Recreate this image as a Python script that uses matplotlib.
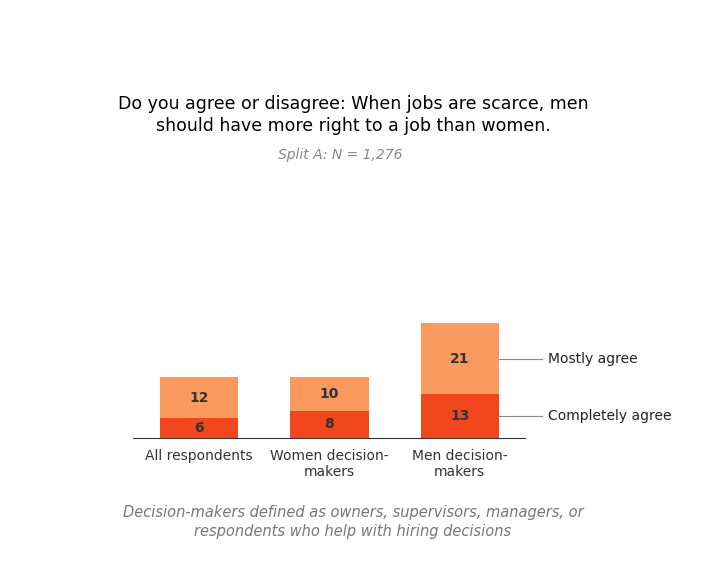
import matplotlib.pyplot as plt

categories = ['All respondents', 'Women decision-\nmakers', 'Men decision-\nmakers']
completely = [6, 8, 13]
mostly = [12, 10, 21]
series_names = ['Completely agree', 'Mostly agree']

dark = '#F0471F'
light = '#FA9A5E'

fig = plt.figure(figsize=(7.28, 5.76), dpi=100)
ax = fig.add_axes([133/728, 138/576, 392/728, 135/576])
x = range(len(categories))
ax.bar(x, completely, width=0.6, color=dark)
ax.bar(x, mostly, width=0.6, bottom=completely, color=light)
for i in x:
    ax.text(i, completely[i] / 2, str(completely[i]), ha='center', va='center',
            fontsize=10, fontweight='bold', color='#333333')
    ax.text(i, completely[i] + mostly[i] / 2, str(mostly[i]), ha='center', va='center',
            fontsize=10, fontweight='bold', color='#333333')

# series labels next to last bar
last = len(categories) - 1
for yv, name in [(completely[last] / 2, series_names[0]),
                 (completely[last] + mostly[last] / 2, series_names[1])]:
    ax.plot([last + 0.3, last + 0.63], [yv, yv], color='#888888', lw=0.8, clip_on=False)
    ax.text(last + 0.68, yv, name, va='center', fontsize=10, color='#222222')

ax.set_xlim(-0.506, 2.5)
ax.set_ylim(0, 40)
for s in ['top', 'right', 'left']:
    ax.spines[s].set_visible(False)
ax.spines['bottom'].set_color('#333333')
ax.set_yticks([])
ax.set_xticks(list(x))
ax.set_xticklabels(categories, fontsize=10, color='#333333')
ax.tick_params(axis='x', length=0, pad=8)

fig.text(353/728, 1 - 115/576, 'Do you agree or disagree: When jobs are scarce, men\nshould have more right to a job than women.',
         ha='center', va='center', fontsize=12.5, color='black', linespacing=1.3)
fig.text(340/728, 1 - 155/576, 'Split A: N = 1,276', ha='center', va='center',
         fontsize=10, style='italic', color='#888888')
fig.text(353/728, 1 - 522/576, 'Decision-makers defined as owners, supervisors, managers, or\nrespondents who help with hiring decisions',
         ha='center', va='center', fontsize=10.5, style='italic', color='#777777', linespacing=1.3)

fig.savefig('out.png', dpi=100)
